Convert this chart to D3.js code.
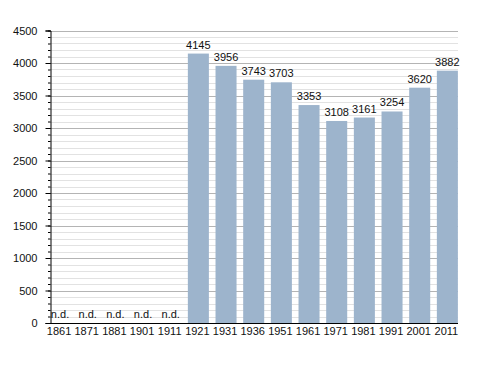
<!DOCTYPE html>
<html>
<head>
<meta charset="utf-8">
<script src="https://cdn.jsdelivr.net/npm/d3@7"></script>
<style>
  html, body { margin: 0; padding: 0; background: #fff; }
  svg text { font-family: "Liberation Sans", Arial, sans-serif; fill: #111; }
</style>
</head>
<body>
<svg id="chart" width="488" height="373"></svg>
<script>
const years = ["1861","1871","1881","1901","1911","1921","1931","1936","1951","1961","1971","1981","1991","2001","2011"];
const population = [null,null,null,null,null,4145,3956,3743,3703,3353,3108,3161,3254,3620,3882];
const yTicks = [0,500,1000,1500,2000,2500,3000,3500,4000,4500];
const minorTicks = d3.range(0, 4501, 100);
const missingLabel = "n.d.";

const svg = d3.select("#chart");
const axisX0 = 50, axisX1 = 458;
const fs = "11px";

const x = d3.scaleBand().domain(years).range([46.2, 461.2]).paddingInner(0.24).paddingOuter(0.12);
const y = d3.scaleLinear().domain([0, 4500]).range([323, 30.5]);

// minor gridlines
svg.append("g").selectAll("line").data(minorTicks.filter(d => d % 500 !== 0)).join("line")
  .attr("x1", axisX0).attr("x2", axisX1)
  .attr("y1", d => Math.round(y(d)) + 0.5).attr("y2", d => Math.round(y(d)) + 0.5)
  .attr("stroke", "#e2e2e2").attr("stroke-width", 1);
// major gridlines
svg.append("g").selectAll("line").data(yTicks.filter(d => d > 0)).join("line")
  .attr("x1", axisX0).attr("x2", axisX1)
  .attr("y1", d => Math.round(y(d)) + 0.5).attr("y2", d => Math.round(y(d)) + 0.5)
  .attr("stroke", "#b4b4b4").attr("stroke-width", 1);

// bars
const data = years.map((yr, i) => ({ year: yr, value: population[i] }));
svg.append("g").selectAll("rect").data(data.filter(d => d.value != null)).join("rect")
  .attr("x", d => x(d.year))
  .attr("width", x.bandwidth())
  .attr("y", d => y(d.value))
  .attr("height", d => y(0) - y(d.value))
  .attr("fill", "#9db4cc");

// value labels
svg.append("g").selectAll("text").data(data).join("text")
  .attr("x", d => x(d.year) + x.bandwidth() / 2)
  .attr("y", d => d.value != null ? y(d.value) - 5 : y(0) - 5.5)
  .attr("text-anchor", "middle")
  .attr("font-size", fs)
  .text(d => d.value != null ? d.value : missingLabel);

// y axis
const yAxis = svg.append("g").attr("transform", `translate(${axisX0 + 0.5},0)`);
yAxis.call(d3.axisLeft(y).tickValues(minorTicks).tickSize(2.5).tickFormat(""));
yAxis.call(g => g.select(".domain").remove());
const yMajor = svg.append("g").attr("transform", `translate(${axisX0 + 0.5},0)`)
  .call(d3.axisLeft(y).tickValues(yTicks).tickSize(5).tickPadding(8).tickFormat(d3.format("d")));
yMajor.select(".domain").attr("stroke", "#000");
yMajor.selectAll("text").attr("font-size", fs).attr("font-family", "Liberation Sans, Arial, sans-serif").attr("fill", "#111");
svg.selectAll(".tick line").attr("stroke", "#000");

// x axis
const xAxis = svg.append("g").attr("transform", `translate(0,${y(0) + 0.5})`)
  .call(d3.axisBottom(x).tickSize(0).tickPadding(4));
xAxis.select(".domain").attr("d", `M${axisX0},0H${axisX1}`).attr("stroke", "#000");
xAxis.selectAll("text").attr("font-size", fs).attr("font-family", "Liberation Sans, Arial, sans-serif").attr("fill", "#111").attr("dx", "-1");
</script>
</body>
</html>
